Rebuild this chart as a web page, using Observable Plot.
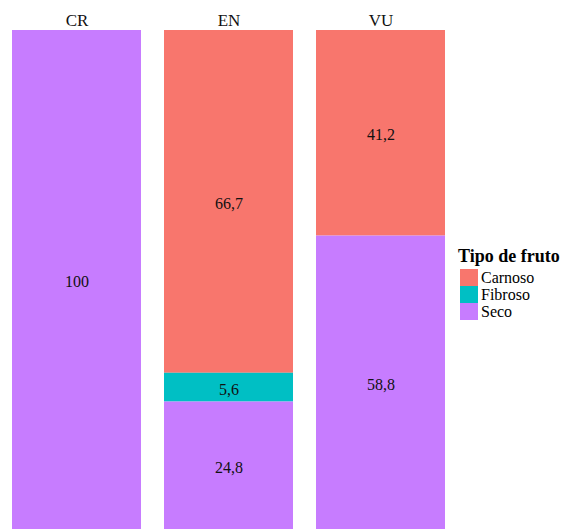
<!DOCTYPE html>
<html>
<head>
<meta charset="utf-8">
<script src="https://cdn.jsdelivr.net/npm/d3@7"></script>
<script src="https://cdn.jsdelivr.net/npm/@observablehq/plot@0.6"></script>
<style>
  html, body { margin: 0; padding: 0; background: #fff; }
  #wrap, #wrap * { font-family: "Liberation Serif", "Times New Roman", serif; }
  #wrap { position: relative; width: 571px; height: 529px; }
  #legend { position: absolute; left: 458px; top: 246px; color: #000; }
  #legend .title { font-weight: bold; font-size: 18px; line-height: 21px; margin-bottom: 2px; }
  #legend .item { display: flex; align-items: center; height: 17px; line-height: 17px; font-size: 16px; }
  #legend .key { width: 18px; height: 17px; margin-left: 2px; margin-right: 3px; }
</style>
</head>
<body>
<div id="wrap"></div>
<script>
// Categorías de amenaza y porcentaje de especies por tipo de fruto
const categorias = ["CR", "EN", "EN", "EN", "VU", "VU"];
const tipos      = ["Seco", "Carnoso", "Fibroso", "Seco", "Carnoso", "Seco"];
const valores    = [100, 66.7, 5.6, 24.8, 41.2, 58.8];

const ordenTipos = ["Carnoso", "Fibroso", "Seco"];
const coloresTipos = ["#F8766D", "#00BFC4", "#C77CFF"];
const ordenApilado = ["Seco", "Fibroso", "Carnoso"];

const datos = categorias.map((c, i) => ({categoria: c, tipo: tipos[i], valor: valores[i]}));

const fmt = d => Number.isInteger(d.valor) ? String(d.valor) : d.valor.toFixed(1).replace(".", ",");
const serif = "'Liberation Serif', 'Times New Roman', serif";

const chart = Plot.plot({
  width: 571,
  height: 529,
  marginTop: 30,
  marginBottom: 0,
  marginLeft: 11,
  marginRight: 124,
  style: {fontFamily: serif, background: "transparent"},
  x: {domain: ["CR", "EN", "VU"], paddingInner: 0.15, paddingOuter: 0, label: null},
  y: {domain: [0, 1], axis: null},
  color: {domain: ordenTipos, range: coloresTipos, legend: false},
  marks: [
    Plot.barY(datos, {
      x: "categoria", y: "valor", fill: "tipo",
      order: ordenApilado, offset: "normalize"
    }),
    Plot.text(datos, Plot.stackY({
      x: "categoria", y: "valor", z: "tipo",
      order: ordenApilado, offset: "normalize",
      text: fmt, fontSize: 16, fontFamily: serif, fill: "#111", dy: 2
    })),
    Plot.axisX({anchor: "top", tickSize: 0, tickPadding: 5, fontSize: 17, fontFamily: serif, fill: "#111", label: null})
  ]
});

const wrap = document.getElementById("wrap");
wrap.appendChild(chart);

// Leyenda
const legend = document.createElement("div");
legend.id = "legend";
legend.innerHTML = `<div class="title">Tipo de fruto</div>` +
  ordenTipos.map((t, i) => `<div class="item"><span class="key" style="background:${coloresTipos[i]}"></span><span>${t}</span></div>`).join("");
wrap.appendChild(legend);
</script>
</body>
</html>
